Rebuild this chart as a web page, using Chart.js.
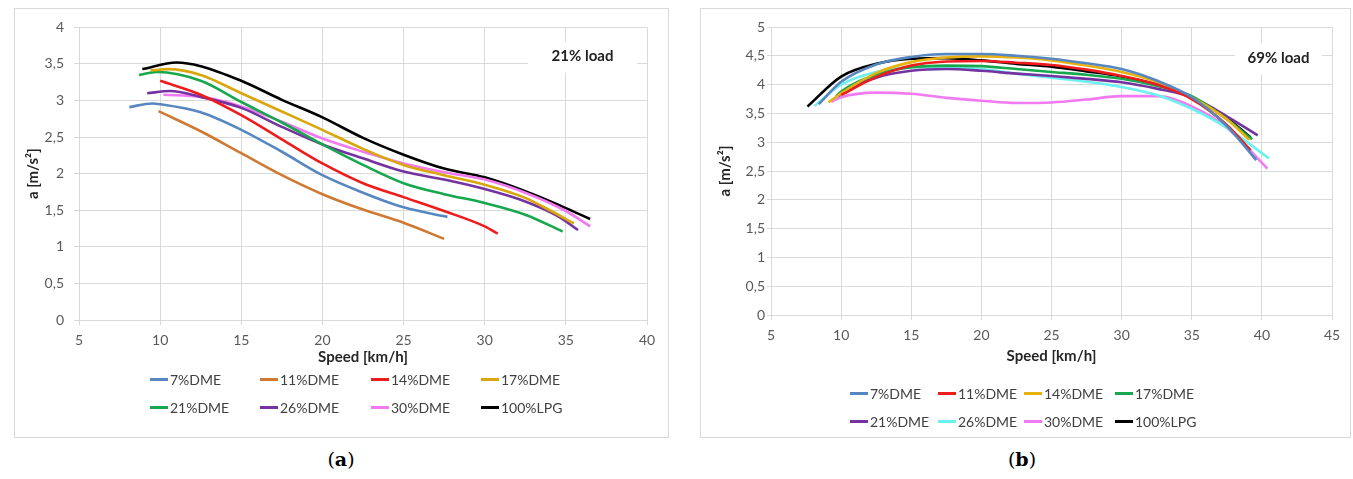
<!DOCTYPE html>
<html lang="en">
<head>
<meta charset="utf-8">
<title>Acceleration vs speed</title>
<script src="https://cdn.jsdelivr.net/npm/chart.js@4.4.1/dist/chart.umd.min.js"></script>
<style>
  body { margin: 0; background: #fff; font-family: Lato, sans-serif; }
  .box { position: absolute; top: 8px; height: 430px; border: 1px solid #d9d9d9; box-sizing: border-box; }
  #boxA { left: 14px; width: 655px; }
  #boxB { left: 700px; width: 651px; }
  .box canvas { position: absolute; left: 0; top: 0; }
  .legend { position: absolute; }
  .row { display: flex; height: 28px; align-items: center; }
  .item { display: flex; align-items: center; font-size: 14px; color: #404040; white-space: nowrap; }
  .item i { display: inline-block; width: 18px; height: 3px; margin-right: 2px; }
  .cap { position: absolute; top: 448px; width: 60px; text-align: center; font-family: 'DejaVu Serif', serif; font-size: 19px; color: #000; }
</style>
</head>
<body>
<div class="box" id="boxA"><canvas id="chartA" width="653" height="428"></canvas></div>
<div class="box" id="boxB"><canvas id="chartB" width="649" height="428"></canvas></div>
<div class="legend" id="legendA" style="left:150px; top:365px;"></div>
<div class="legend" id="legendB" style="left:850px; top:379px;"></div>
<div class="cap" style="left:311px;">(<b>a</b>)</div>
<div class="cap" style="left:992px;">(<b>b</b>)</div>

<script>
// series names and colours (same order in both panels)
const namesA = ['7%DME', '11%DME', '14%DME', '17%DME', '21%DME', '26%DME', '30%DME', '100%LPG'];
const colorsA = ['#5787c0', '#cf7a34', '#ee1c1c', '#d9a60b', '#17a84f', '#7433a0', '#f27af0', '#000000'];
const namesB = ['7%DME', '11%DME', '14%DME', '17%DME', '21%DME', '26%DME', '30%DME', '100%LPG'];
const colorsB = ['#5787c0', '#ee1c1c', '#e8b20e', '#17a84f', '#7433a0', '#6cf0f0', '#f27af0', '#000000'];

// (a) 21% load : [speed km/h, a m/s2]
const a_dme7  = [[8.1,2.91],[9.5,2.96],[10,2.95],[12.5,2.84],[15,2.60],[17.5,2.30],[20,1.98],[22.5,1.74],[25,1.54],[27.7,1.41]];
const a_dme11 = [[9.9,2.855],[12.5,2.58],[15,2.28],[17.5,1.98],[20,1.72],[22.5,1.51],[25,1.33],[27.5,1.11]];
const a_dme14 = [[10,3.27],[12.5,3.08],[15,2.80],[17.5,2.47],[20,2.14],[22.5,1.87],[25,1.68],[27.5,1.49],[30,1.28],[30.8,1.18]];
const a_dme17 = [[9.4,3.41],[10.5,3.43],[12.5,3.35],[15,3.10],[17.5,2.85],[20,2.60],[22.5,2.34],[25,2.12],[27.5,1.98],[30,1.85],[32.5,1.67],[34,1.50],[35.5,1.32]];
const a_dme21 = [[8.7,3.35],[9.8,3.39],[12.5,3.27],[15,2.98],[17.5,2.70],[20,2.40],[22.5,2.12],[25,1.87],[27.5,1.72],[30,1.60],[32.5,1.44],[34.8,1.21]];
const a_dme26 = [[9.2,3.10],[10.6,3.13],[12.5,3.05],[15,2.90],[17.5,2.64],[20,2.40],[22.5,2.21],[25,2.03],[27.5,1.92],[30,1.79],[32.5,1.62],[34.5,1.42],[35.75,1.23]];
const a_dme30 = [[10.2,3.08],[12.5,3.05],[15,2.92],[17.5,2.71],[20,2.48],[22.5,2.30],[25,2.14],[27.5,2.02],[30,1.92],[32.5,1.74],[35,1.49],[36.5,1.28]];
const a_lpg   = [[8.9,3.43],[11,3.52],[12.5,3.47],[15,3.27],[17.5,3.01],[20,2.77],[22.5,2.49],[25,2.26],[27.5,2.07],[30,1.95],[32.5,1.76],[35,1.53],[36.5,1.38]];

// (b) 69% load
const b_dme7  = [[8.4,3.66],[10,4.05],[12.5,4.35],[15,4.48],[17.5,4.53],[20,4.53],[22.5,4.50],[25,4.45],[27.5,4.37],[30,4.27],[32.5,4.07],[35,3.78],[37.5,3.28],[39.6,2.69]];
const b_dme11 = [[10,3.82],[12.5,4.13],[15,4.33],[17.5,4.40],[20,4.41],[22.5,4.38],[25,4.34],[27.5,4.26],[30,4.15],[32.5,4.00],[35,3.75],[37.5,3.30],[39.2,2.86]];
const b_dme14 = [[9.1,3.69],[10,3.85],[12.5,4.20],[15,4.39],[17.5,4.47],[20,4.49],[22.5,4.47],[25,4.42],[27.5,4.33],[30,4.22],[32.5,4.05],[35,3.78],[37.5,3.40],[39.1,3.04]];
const b_dme17 = [[9.6,3.78],[10,3.88],[12.5,4.17],[15,4.30],[17.5,4.33],[20,4.32],[22.5,4.27],[25,4.22],[27.5,4.17],[30,4.10],[32.5,3.98],[35,3.80],[37.5,3.40],[39.3,3.05]];
const b_dme21 = [[9.8,3.80],[10,3.85],[12.5,4.12],[15,4.24],[17.5,4.27],[20,4.24],[22.5,4.19],[25,4.15],[27.5,4.10],[30,4.04],[32.5,3.93],[35,3.78],[37.5,3.45],[39.7,3.12]];
const b_dme26 = [[8.1,3.63],[10,4.00],[12.5,4.22],[15,4.30],[17.5,4.30],[20,4.27],[22.5,4.19],[25,4.12],[27.5,4.05],[30,3.96],[32.5,3.82],[35,3.58],[37.5,3.25],[40.5,2.72]];
const b_dme30 = [[9.3,3.70],[10,3.78],[12.5,3.86],[15,3.84],[17.5,3.77],[20,3.72],[22.5,3.68],[25,3.69],[27.5,3.74],[30,3.80],[32.5,3.80],[35,3.62],[37.5,3.25],[40.4,2.54]];
const b_lpg   = [[7.6,3.62],[10,4.14],[12.5,4.36],[15,4.45],[17.5,4.46],[20,4.42],[22.5,4.36],[25,4.31],[27.5,4.23],[30,4.14],[32.5,4.00],[35,3.77],[37.5,3.42],[39.2,3.08]];

const seriesA = [a_dme7, a_dme11, a_dme14, a_dme17, a_dme21, a_dme26, a_dme30, a_lpg];
const seriesB = [b_dme7, b_dme11, b_dme14, b_dme17, b_dme21, b_dme26, b_dme30, b_lpg];

const gridCol = '#d9d9d9';
const tickCol = '#595959';

function makeSets(series, names, colors) {
  return series.map((pts, i) => ({
    label: names[i],
    data: pts.map(p => ({ x: p[0], y: p[1] })),
    borderColor: colors[i],
    borderWidth: 2.6,
    pointRadius: 0,
    cubicInterpolationMode: 'monotone',
    fill: false
  }));
}

// white box with the load note, drawn over the grid
function notePlugin(text, rect) {
  return {
    id: 'note',
    beforeDatasetsDraw(chart) {
      const c = chart.ctx;
      c.save();
      c.fillStyle = '#fff';
      c.fillRect(rect[0], rect[1], rect[2], rect[3]);
      c.fillStyle = '#222';
      c.font = 'bold 15px Lato';
      c.textAlign = 'center';
      c.textBaseline = 'middle';
      c.fillText(text, rect[0] + rect[2] / 2, rect[1] + rect[3] / 2 - 1);
      c.restore();
    }
  };
}

function makeChart(id, series, names, colors, xmax, ymax, cfg) {
  new Chart(document.getElementById(id), {
    type: 'line',
    data: { datasets: makeSets(series, names, colors) },
    options: {
      responsive: false,
      animation: false,
      layout: { padding: { top: cfg.padTop, right: cfg.padRight, bottom: 0, left: 0 } },
      plugins: { legend: { display: false }, tooltip: { enabled: false } },
      scales: {
        x: {
          type: 'linear', min: 5, max: xmax,
          afterFit: s => { s.height = cfg.xHeight; },
          ticks: { stepSize: 5, color: tickCol, font: { family: 'Lato', size: 14 }, padding: 7, maxRotation: 0 },
          grid: { color: gridCol, tickColor: gridCol, tickLength: 5 },
          border: { color: gridCol },
          title: { display: true, text: 'Speed [km/h]', color: '#262626',
                   font: { family: 'Lato', size: 15, weight: 'bold' },
                   padding: { top: 0, bottom: cfg.xTitlePad } }
        },
        y: {
          min: 0, max: ymax,
          afterFit: s => { s.width = cfg.yWidth; },
          ticks: { stepSize: 0.5, color: tickCol, font: { family: 'Lato', size: 14 }, padding: cfg.yTickPad,
                   callback: v => String(v).replace('.', ',') },
          grid: { color: gridCol, tickColor: gridCol, tickLength: cfg.yTickLen },
          border: { color: gridCol },
          title: { display: true, text: 'a [m/s²]', color: '#262626',
                   font: { family: 'Lato', size: 15, weight: 'bold' },
                   padding: { top: cfg.yTitlePad, bottom: 0 } }
        }
      }
    },
    plugins: [notePlugin(cfg.note, cfg.noteRect)]
  });
}

makeChart('chartA', seriesA, namesA, colorsA, 40, 4, {
  padTop: 15, padRight: 21, xHeight: 117, xTitlePad: 71, yWidth: 64, yTickPad: 10, yTickLen: 5, yTitlePad: 9,
  note: '21% load', noteRect: [513, 33, 109, 31]
});
makeChart('chartB', seriesB, namesB, colorsB, 45, 5, {
  padTop: 18, padRight: 18, xHeight: 122, xTitlePad: 72, yWidth: 70, yTickPad: 2, yTickLen: 4, yTitlePad: 15,
  note: '69% load', noteRect: [534, 34, 87, 32]
});

// legends, 4 per row
function buildLegend(id, names, colors, widths) {
  const el = document.getElementById(id);
  for (let r = 0; r < 2; r++) {
    const row = document.createElement('div');
    row.className = 'row';
    for (let k = 0; k < 4; k++) {
      const i = r * 4 + k;
      const it = document.createElement('div');
      it.className = 'item';
      it.style.width = widths[k] + 'px';
      it.innerHTML = '<i style="background:' + colors[i] + '"></i>' + names[i];
      row.appendChild(it);
    }
    el.appendChild(row);
  }
}
buildLegend('legendA', namesA, colorsA, [110, 111, 110, 110]);
buildLegend('legendB', namesB, colorsB, [88, 86, 91, 92]);
</script>
</body>
</html>
